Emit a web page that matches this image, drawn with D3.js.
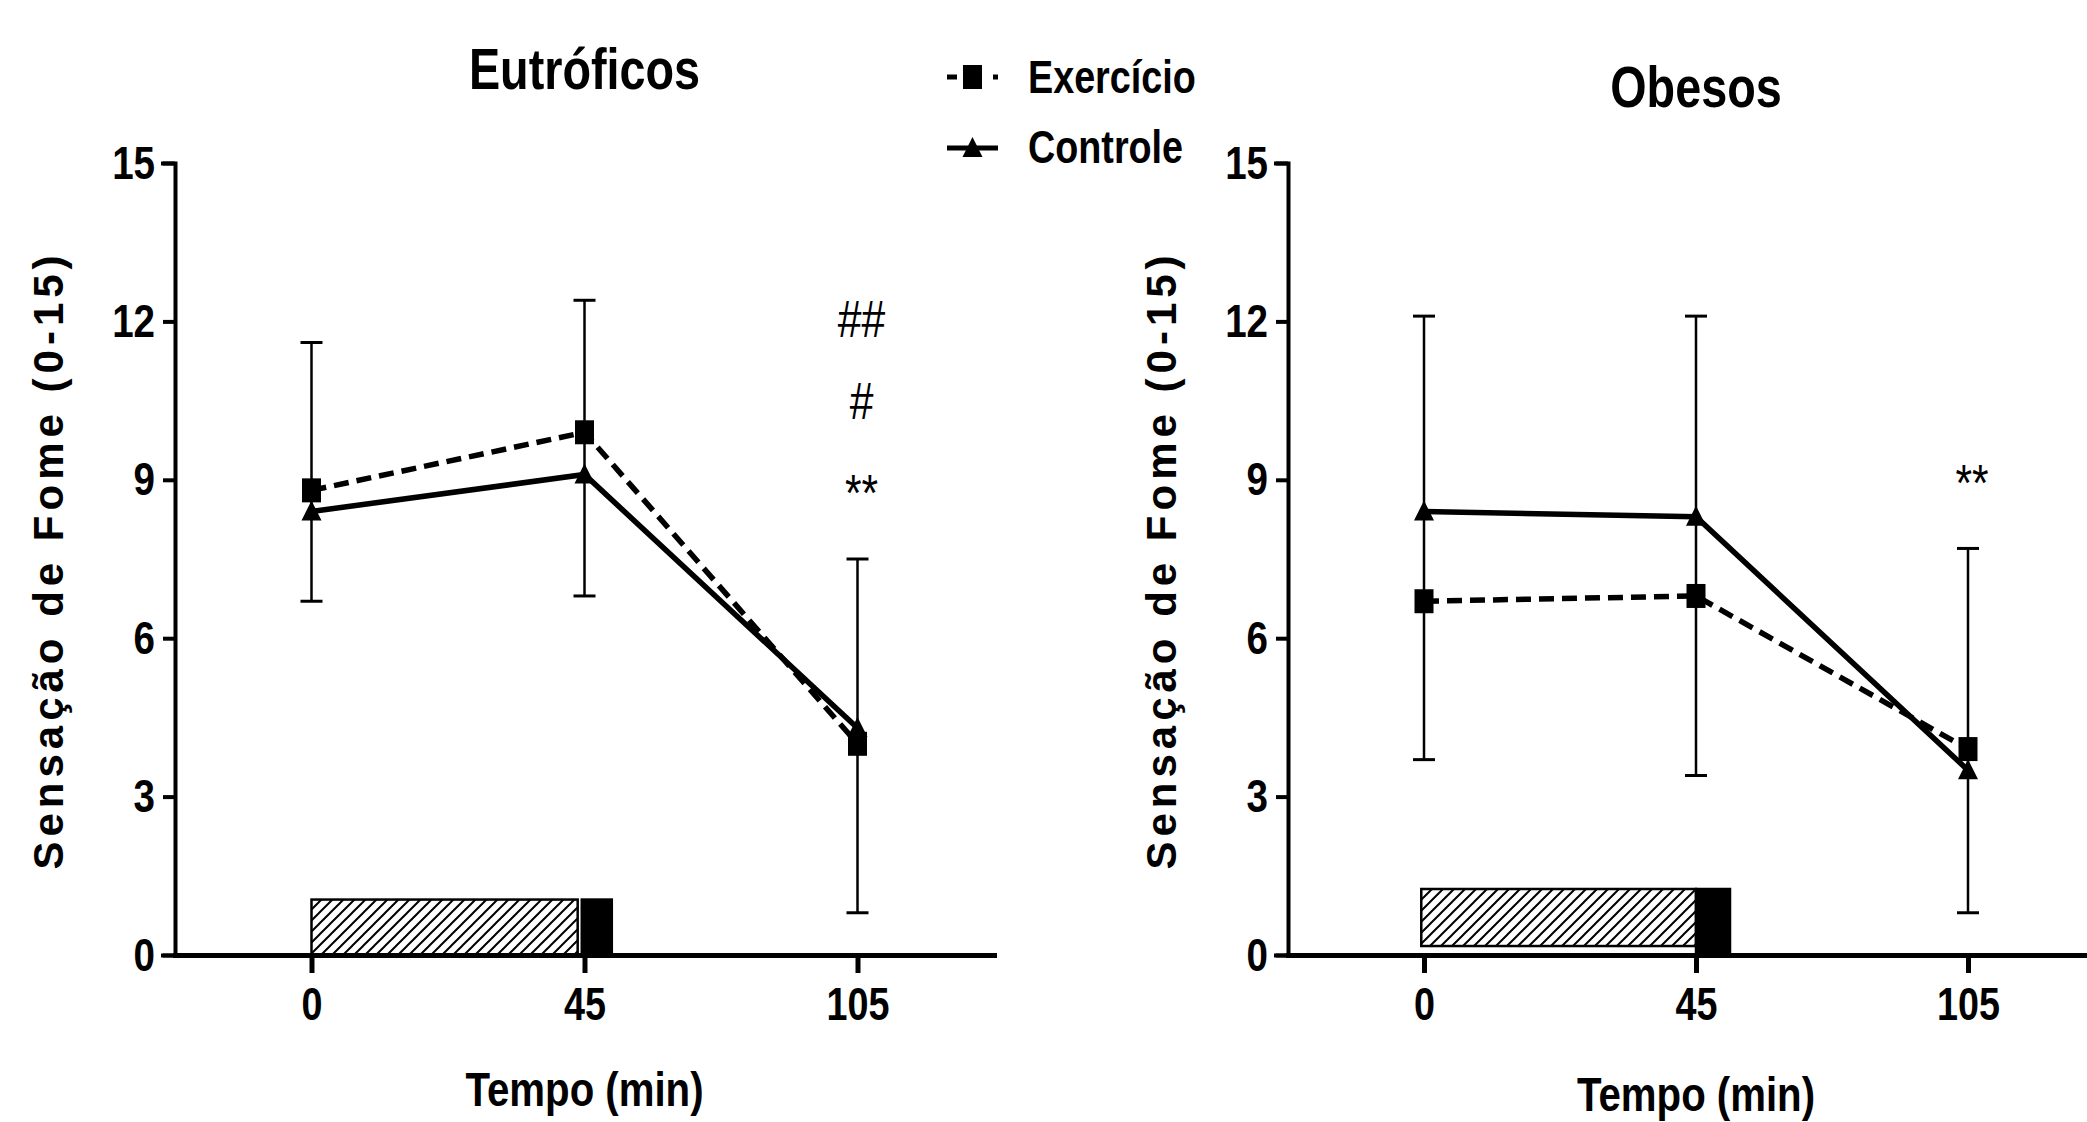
<!DOCTYPE html>
<html><head><meta charset="utf-8">
<script src="https://cdn.jsdelivr.net/npm/d3@7"></script>
<style>html,body{margin:0;padding:0;background:#fff;overflow:hidden}</style>
</head><body>
<svg id="chart" width="2087" height="1122" xmlns="http://www.w3.org/2000/svg"></svg>
<script>
// ---------- DATA ----------
const timeLabels = ["0", "45", "105"];          // Tempo (min)
const yTickValues = [0, 3, 6, 9, 12, 15];
const seriesNames = ["Exercício", "Controle"];

// Eutróficos
const eutExercicio = [8.8, 9.9, 4.0];
const eutControle  = [8.4, 9.1, 4.3];
const eutErrHigh   = [11.6, 12.4, 7.5];
const eutErrLow    = [6.7, 6.8, 0.8];
const eutMarks     = ["##", "#", "**"];
const eutMarkY     = [11.7, 10.15, 8.4];
const eutHatch     = [0, 0.975, 0, 1.05];     // x-index start, end, y bottom, top
const eutBlack     = [0.99, 1.10, 0, 1.05];

// Obesos
const obeExercicio = [6.7, 6.8, 3.9];
const obeControle  = [8.4, 8.3, 3.5];
const obeErrHigh   = [12.1, 12.1, 7.7];
const obeErrLow    = [3.7, 3.4, 0.8];
const obeMarks     = ["**"];
const obeMarkY     = [8.6];
const obeHatch     = [-0.01, 1.0, 0.17, 1.25];
const obeBlack     = [1.0, 1.125, 0, 1.25];

// ---------- FONT HANDLING ----------
const ctx = document.createElement('canvas').getContext('2d');
ctx.font = "bold 40px monospace";
const w0 = ctx.measureText("Exercício 0123").width;
ctx.font = "bold 40px 'Liberation Sans Narrow', monospace";
const w1 = ctx.measureText("Exercício 0123").width;
const hasNarrow = Math.abs(w1 - w0) > 1;
const NARROW = "'Liberation Sans Narrow', 'Liberation Sans', Arial, sans-serif";
function narrow(sel) {
  if (hasNarrow) return;
  sel.each(function () {
    const L = this.getComputedTextLength();
    this.setAttribute("textLength", L * 0.82);
    this.setAttribute("lengthAdjust", "spacingAndGlyphs");
  });
}

const svg = d3.select("#chart");
const defs = svg.append("defs");
const pat = defs.append("pattern").attr("id", "hatch")
  .attr("patternUnits", "userSpaceOnUse").attr("width", 11).attr("height", 11);
pat.append("path").attr("d", "M-2,2 L2,-2 M0,11 L11,0 M9,13 L13,9")
  .attr("stroke", "#000").attr("stroke-width", 2);

const squarePath = "M-9.5,-12H9.5V12H-9.5Z";
const trianglePath = "M0,-11L10,9H-10Z";

function drawPanel(p) {
  const g = svg.append("g");
  const x = d3.scaleLinear().domain([-0.5, 2.5]).range([p.x0, p.x1]);
  const y = d3.scaleLinear().domain([0, 15]).range([955, 163]);

  // period boxes
  const box = (arr, fill) => g.append("rect")
    .attr("x", x(arr[0])).attr("width", x(arr[1]) - x(arr[0]))
    .attr("y", y(arr[3])).attr("height", y(arr[2]) - y(arr[3]))
    .attr("fill", fill).attr("stroke", "#000").attr("stroke-width", 2.5);
  box(p.hatch, "url(#hatch)");
  box(p.black, "#000");

  // error bars
  const idx = [0, 1, 2];
  const eb = g.append("g");
  eb.selectAll("line.v").data(idx).join("line")
    .attr("x1", i => x(i)).attr("x2", i => x(i))
    .attr("y1", i => y(p.errLow[i])).attr("y2", i => y(p.errHigh[i]))
    .attr("stroke", "#000").attr("stroke-width", 2.5);
  eb.selectAll("line.hi").data(idx).join("line")
    .attr("x1", i => x(i) - 11).attr("x2", i => x(i) + 11)
    .attr("y1", i => y(p.errHigh[i])).attr("y2", i => y(p.errHigh[i]))
    .attr("stroke", "#000").attr("stroke-width", 3);
  eb.selectAll("line.lo").data(idx).join("line")
    .attr("x1", i => x(i) - 11).attr("x2", i => x(i) + 11)
    .attr("y1", i => y(p.errLow[i])).attr("y2", i => y(p.errLow[i]))
    .attr("stroke", "#000").attr("stroke-width", 3);

  const line = d3.line().x((d, i) => x(i)).y(d => y(d));
  g.append("path").attr("d", line(p.controle)).attr("fill", "none")
    .attr("stroke", "#000").attr("stroke-width", 5.5);
  g.append("path").attr("d", line(p.exercicio)).attr("fill", "none")
    .attr("stroke", "#000").attr("stroke-width", 5.5).attr("stroke-dasharray", "15,8");

  g.selectAll("path.tri").data(p.controle).join("path")
    .attr("d", trianglePath).attr("fill", "#000")
    .attr("transform", (d, i) => `translate(${x(i)},${y(d)})`);
  g.selectAll("path.sq").data(p.exercicio).join("path")
    .attr("d", squarePath).attr("fill", "#000")
    .attr("transform", (d, i) => `translate(${x(i)},${y(d)})`);

  // axes
  const yAxis = g.append("g").attr("transform", `translate(${p.x0},0)`)
    .call(d3.axisLeft(y).tickValues(yTickValues).tickSize(12).tickSizeOuter(12).tickPadding(8));
  yAxis.selectAll("path,line").attr("stroke", "#000").attr("stroke-width", 4);
  yAxis.selectAll("text").attr("font-family", NARROW).attr("font-weight", "bold")
    .attr("font-size", 47).attr("fill", "#000").call(narrow);

  const xAxis = g.append("g").attr("transform", `translate(0,955)`)
    .call(d3.axisBottom(x).tickValues(idx).tickFormat(i => timeLabels[i])
      .tickSize(18).tickSizeOuter(0).tickPadding(14));
  xAxis.selectAll("path,line").attr("stroke", "#000").attr("stroke-width", 5);
  xAxis.selectAll("text").attr("font-family", NARROW).attr("font-weight", "bold")
    .attr("font-size", 46).attr("fill", "#000").call(narrow);
  g.selectAll(".domain").attr("stroke-linecap", "square");

  // annotations at last time point
  g.selectAll("text.mark").data(p.marks).join("text")
    .attr("x", x(2) + 4).attr("y", (d, i) => y(p.markY[i]))
    .attr("text-anchor", "middle").attr("font-family", NARROW)
    .attr("font-size", 52).attr("fill", "#000").text(d => d).call(narrow);

  // titles
  g.append("text").attr("x", x(1)).attr("y", p.titleY).attr("text-anchor", "middle")
    .attr("font-family", NARROW).attr("font-weight", "bold").attr("font-size", 57)
    .text(p.title).call(narrow);
  g.append("text").attr("x", x(1)).attr("y", p.xTitleY).attr("text-anchor", "middle")
    .attr("font-family", NARROW).attr("font-weight", "bold").attr("font-size", 49)
    .text("Tempo (min)").call(narrow);
  g.append("text")
    .attr("transform", `translate(${p.x0 - 112},560) rotate(-90)`)
    .attr("text-anchor", "middle")
    .attr("font-family", "'Liberation Sans', Arial, sans-serif").attr("font-weight", "bold")
    .attr("font-size", 42).attr("letter-spacing", 5)
    .text("Sensação de Fome (0-15)");
}

drawPanel({
  x0: 175, x1: 994, title: "Eutróficos", titleY: 89, xTitleY: 1106,
  exercicio: eutExercicio, controle: eutControle, errHigh: eutErrHigh, errLow: eutErrLow,
  marks: eutMarks, markY: eutMarkY, hatch: eutHatch, black: eutBlack
});
drawPanel({
  x0: 1288, x1: 2104, title: "Obesos", titleY: 107, xTitleY: 1111,
  exercicio: obeExercicio, controle: obeControle, errHigh: obeErrHigh, errLow: obeErrLow,
  marks: obeMarks, markY: obeMarkY, hatch: obeHatch, black: obeBlack
});

// legend
const lg = svg.append("g");
const legendRows = [
  { name: seriesNames[0], y: 77, dash: "10,36,5,100", shape: squarePath, ty: 93 },
  { name: seriesNames[1], y: 148, dash: null, shape: trianglePath, ty: 163 }
];
legendRows.forEach(r => {
  const ln = lg.append("line").attr("x1", 947).attr("x2", 998).attr("y1", r.y).attr("y2", r.y)
    .attr("stroke", "#000").attr("stroke-width", 5);
  if (r.dash) ln.attr("stroke-dasharray", r.dash);
  lg.append("path").attr("d", r.shape).attr("fill", "#000")
    .attr("transform", `translate(972.5,${r.y})`);
  lg.append("text").attr("x", 1028).attr("y", r.ty)
    .attr("font-family", NARROW).attr("font-weight", "bold").attr("font-size", 46)
    .text(r.name).call(narrow);
});
</script>
</body></html>
